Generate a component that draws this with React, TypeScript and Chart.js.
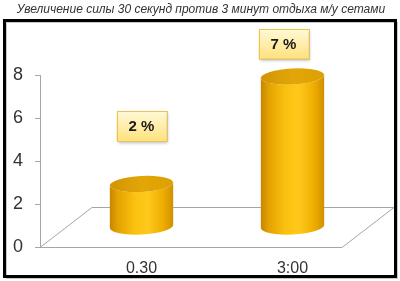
import React, { useEffect, useRef } from "react";
import { Chart, registerables } from "chart.js";

Chart.register(...registerables);

const TITLE = "Увеличение силы 30 секунд против 3 минут отдыха м/у сетами";
const categories = ["0.30", "3:00"];
const values = [2, 7];
const valueLabels = ["2 %", "7 %"];
const yTicks = [0, 2, 4, 6, 8];

const DEPTH_X = 52;
const DEPTH_Y = -40;
const LABEL_SHIFT = [
  { dx: 0, dy: -58 },
  { dx: -9, dy: -33 },
];

const framePlugin = {
  id: "frame3d",
  beforeDraw(chart: any) {
    const ctx = chart.ctx;
    ctx.save();
    ctx.fillStyle = "#ffffff";
    ctx.fillRect(0, 0, chart.width, chart.height);
    ctx.fillStyle = "#333333";
    ctx.font = "italic 12px 'Liberation Sans', sans-serif";
    ctx.textAlign = "center";
    ctx.textBaseline = "middle";
    ctx.fillText(TITLE, 201, 10);
    ctx.strokeStyle = "#c8c8c8";
    ctx.lineWidth = 1;
    ctx.strokeRect(6.5, 22.5, 391, 256);
    ctx.strokeStyle = "#000000";
    ctx.lineWidth = 3;
    ctx.strokeRect(4.5, 20.5, 391, 256);
    ctx.restore();
  },
  beforeDatasetsDraw(chart: any) {
    const ctx = chart.ctx;
    const a = chart.chartArea;
    ctx.save();
    ctx.strokeStyle = "#a6a6a6";
    ctx.lineWidth = 1;
    ctx.beginPath();
    ctx.moveTo(a.left, a.bottom + 0.5);
    ctx.lineTo(a.right, a.bottom + 0.5);
    ctx.lineTo(a.right + DEPTH_X, a.bottom + DEPTH_Y + 0.5);
    ctx.lineTo(a.left + DEPTH_X, a.bottom + DEPTH_Y + 0.5);
    ctx.closePath();
    ctx.stroke();
    ctx.restore();
  },
  afterDatasetsDraw(chart: any) {
    const ctx = chart.ctx;
    const meta = chart.getDatasetMeta(0);
    meta.data.forEach((bar: any, i: number) => {
      const p = bar.getProps(["x", "y", "base", "width"], true);
      const cx = p.x + DEPTH_X / 2;
      const ty = p.y + DEPTH_Y / 2;
      const by = p.base + DEPTH_Y / 2;
      const rx = p.width / 2;
      const ry = 8;
      const rot = -0.05;
      ctx.save();
      const g = ctx.createLinearGradient(cx - rx, 0, cx + rx, 0);
      g.addColorStop(0, "#c68600");
      g.addColorStop(0.12, "#e3a200");
      g.addColorStop(0.4, "#fcc210");
      g.addColorStop(0.6, "#ffc81c");
      g.addColorStop(0.85, "#eeac00");
      g.addColorStop(1, "#cf9000");
      ctx.fillStyle = g;
      ctx.beginPath();
      ctx.ellipse(cx, ty, rx, ry, rot, Math.PI, 0, true);
      ctx.lineTo(cx + rx, by);
      ctx.ellipse(cx, by, rx, ry, rot, 0, Math.PI, false);
      ctx.closePath();
      ctx.fill();
      const gt = ctx.createLinearGradient(cx - rx, 0, cx + rx, 0);
      gt.addColorStop(0, "#d39400");
      gt.addColorStop(0.5, "#e2a608");
      gt.addColorStop(1, "#dca000");
      ctx.fillStyle = gt;
      ctx.beginPath();
      ctx.ellipse(cx, ty, rx, ry, rot, 0, Math.PI * 2);
      ctx.fill();
      // label box
      const s = LABEL_SHIFT[i];
      const bx = cx + s.dx;
      const byc = ty + s.dy;
      const w = 50;
      const h = 30;
      ctx.shadowColor = "rgba(0,0,0,0.28)";
      ctx.shadowBlur = 3;
      ctx.shadowOffsetX = 1;
      ctx.shadowOffsetY = 2;
      const gb = ctx.createLinearGradient(0, byc - h / 2, 0, byc + h / 2);
      gb.addColorStop(0, "#fff9d8");
      gb.addColorStop(1, "#ffe27e");
      ctx.fillStyle = gb;
      ctx.fillRect(bx - w / 2, byc - h / 2, w, h);
      ctx.shadowColor = "transparent";
      ctx.strokeStyle = "#e9c457";
      ctx.lineWidth = 1;
      ctx.strokeRect(Math.round(bx - w / 2) + 0.5, Math.round(byc - h / 2) + 0.5, w, h);
      ctx.fillStyle = "#1a1a1a";
      ctx.font = "bold 15px 'Liberation Sans', sans-serif";
      ctx.textAlign = "center";
      ctx.textBaseline = "middle";
      ctx.fillText(valueLabels[i], bx, byc + 1);
      ctx.restore();
    });
  },
};

export default function App() {
  const ref = useRef<HTMLCanvasElement>(null);
  useEffect(() => {
    document.body.style.margin = "0";
    const chart = new Chart(ref.current as HTMLCanvasElement, {
      type: "bar",
      data: {
        labels: categories,
        datasets: [
          {
            data: values,
            backgroundColor: "rgba(0,0,0,0)",
            borderWidth: 0,
            barPercentage: 0.42,
            categoryPercentage: 1,
          },
        ],
      },
      options: {
        animation: false,
        responsive: false,
        layout: { padding: { left: 0, right: 58, top: 75, bottom: 4 } },
        plugins: { legend: { display: false }, tooltip: { enabled: false }, title: { display: false } },
        scales: {
          x: {
            grid: { display: false },
            border: { display: false },
            afterFit: (scale: any) => {
              scale.height = 30;
            },
            ticks: {
              labelOffset: 26,
              padding: 4,
              color: "#333333",
              font: { family: "'Liberation Sans', sans-serif", size: 16 },
            },
          },
          y: {
            min: 0,
            max: 8,
            afterBuildTicks: (scale: any) => {
              scale.ticks = yTicks.map((v) => ({ value: v }));
            },
            afterFit: (scale: any) => {
              scale.width = 40;
            },
            grid: { drawOnChartArea: false, tickLength: 5, color: "#a6a6a6" },
            border: { display: true, color: "#a6a6a6" },
            ticks: {
              padding: 12,
              color: "#333333",
              font: { family: "'Liberation Sans', sans-serif", size: 18 },
            },
          },
        },
      },
      plugins: [framePlugin],
    } as any);
    return () => chart.destroy();
  }, []);
  return <canvas ref={ref} width={400} height={281} style={{ display: "block" }} />;
}
